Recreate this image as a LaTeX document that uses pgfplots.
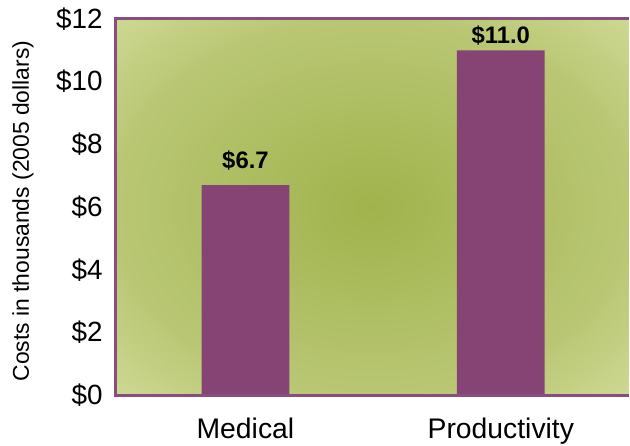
\documentclass[border=0pt]{standalone}
\usepackage{fontspec}
\setmainfont{Liberation Sans}
\usepackage{pgfplots}
\pgfplotsset{compat=1.18}
\definecolor{bgin}{HTML}{A0B34C}
\definecolor{bgmid}{HTML}{B9C774}
\definecolor{bgout}{HTML}{CDD993}
\definecolor{barcol}{HTML}{854474}
\definecolor{framecol}{HTML}{8A4D80}
\pgfdeclareradialshading{plotbg}{\pgfpoint{0bp}{0bp}}{%
  color(0bp)=(bgin); color(25bp)=(bgmid); color(35.5bp)=(bgout); color(50bp)=(bgout)}
\begin{document}
\begin{tikzpicture}
\begin{axis}[
    scale only axis,
    width=514bp, height=377bp,
    ybar, bar width=88bp,
    xmin=-0.508, xmax=1.5,
    ymin=0, ymax=12,
    xtick={0,1},
    xticklabels={Medical,Productivity},
    ytick={0,2,...,12},
    yticklabels={\$0,\$2,\$4,\$6,\$8,\$10,\$12},
    major tick length=0pt,
    axis line style={draw=none},
    axis background/.style={shade, shading=plotbg},
    xticklabel style={font=\fontsize{28.5}{32}\selectfont, inner sep=0pt, anchor=north, yshift=-23bp},
    yticklabel style={font=\fontsize{28}{32}\selectfont, inner sep=0pt, anchor=east, xshift=-13bp},
    ylabel={Costs in thousands (2005 dollars)},
    ylabel style={font=\fontsize{23}{27}\selectfont, at={([xshift=-93bp,yshift=-4bp]axis description cs:0,0.5)}, anchor=center},
    clip=false,
]
\addplot[fill=barcol, draw=none] coordinates {(0,6.7) (1,11.0)};
\draw[framecol, line width=3bp] (rel axis cs:1,0) -- (rel axis cs:0,0) -- (rel axis cs:0,1) -- (rel axis cs:1,1);
\node[font=\bfseries\fontsize{24}{28}\selectfont, anchor=base, inner sep=0pt] at ([yshift=17bp]axis cs:0,6.7) {\$6.7};
\node[font=\bfseries\fontsize{24}{28}\selectfont, anchor=base, inner sep=0pt] at ([yshift=7bp]axis cs:1,11.0) {\$11.0};
\end{axis}
\path ([xshift=-116bp,yshift=-51bp]current axis.south west) rectangle ([yshift=19bp]current axis.north east);
\end{tikzpicture}
\end{document}
